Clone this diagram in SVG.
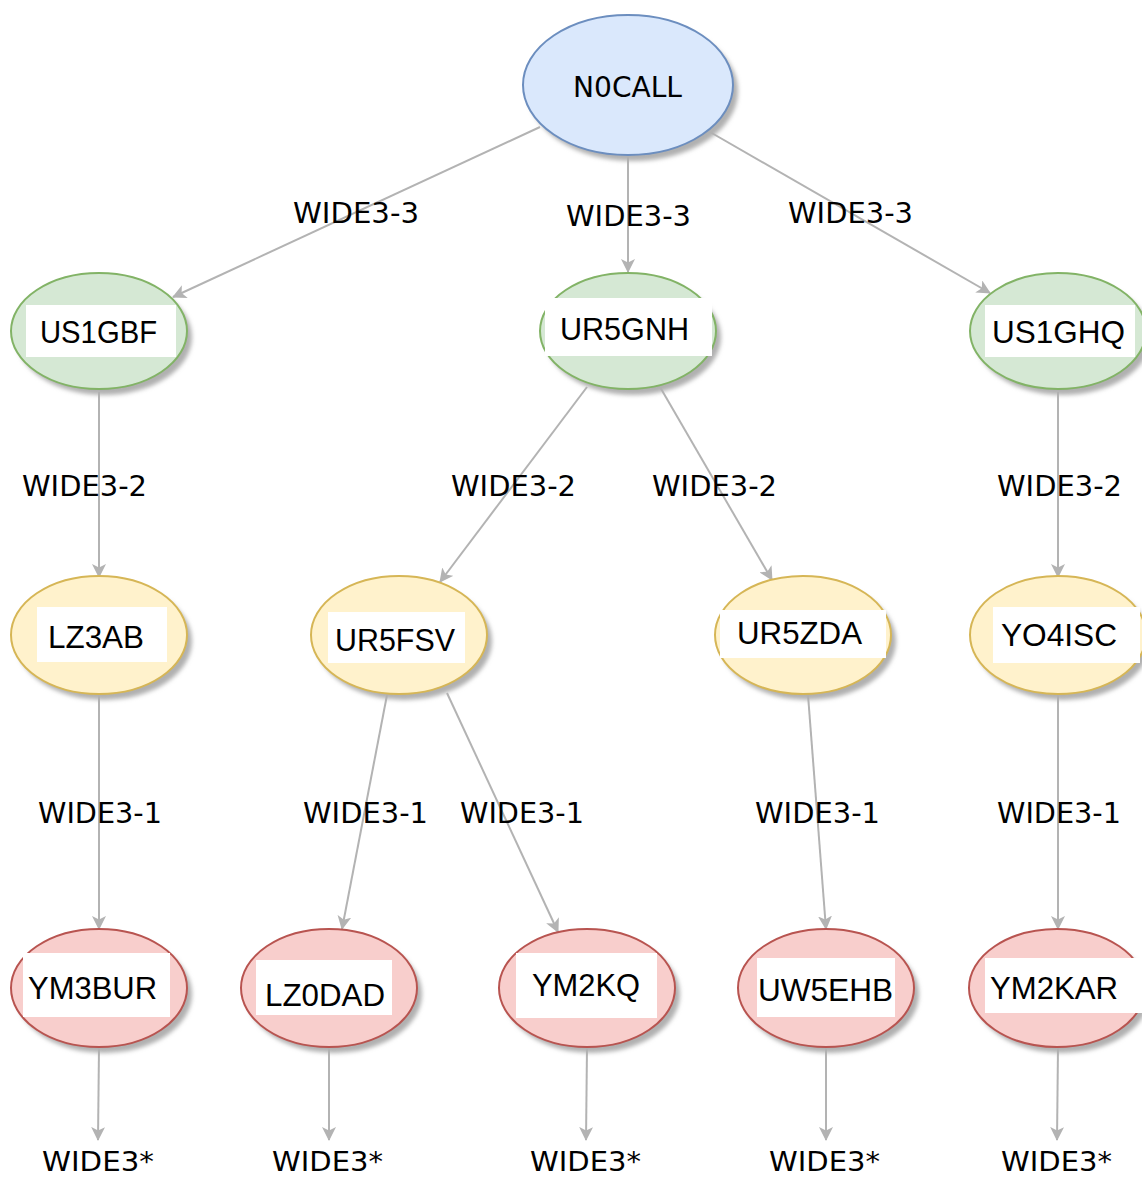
<svg xmlns="http://www.w3.org/2000/svg" width="1142" height="1177" viewBox="0 0 1142 1177">
<style>
.bg{fill:#ffffff}
.sh{fill:#b0b0b0;filter:url(#blur)}
.blue{fill:#dae8fc;stroke:#6c8ebf;stroke-width:2}
.green{fill:#d5e8d4;stroke:#82b366;stroke-width:2}
.yellow{fill:#fff2cc;stroke:#d6b656;stroke-width:2}
.red{fill:#f8cecc;stroke:#b85450;stroke-width:2}
.box{fill:#ffffff}
.nl{font-family:"Liberation Sans",Arial,sans-serif;font-size:32px;fill:#000}
.el{font-family:"DejaVu Sans",Verdana,sans-serif;font-size:28px;fill:#000}
.eb{font-family:"DejaVu Sans",Verdana,sans-serif;font-size:26px;fill:#000}
.ed{stroke:#b3b3b3;stroke-width:2;fill:none;marker-end:url(#arr)}
</style>
<defs>
<filter id="blur" x="-20%" y="-20%" width="140%" height="140%"><feGaussianBlur stdDeviation="2"/></filter>
<marker id="arr" viewBox="0 0 14 14" refX="13" refY="7" markerWidth="14" markerHeight="14" markerUnits="userSpaceOnUse" orient="auto">
<path d="M0,0 L14,7 L0,14 L3.5,7 Z" fill="#b3b3b3"/>
</marker>
</defs>
<rect class="bg" x="0" y="0" width="1142" height="1177"/>

<g id="connectors">
<line class="ed" x1="540" y1="127" x2="173" y2="297"/>
<line class="ed" x1="628" y1="157" x2="628" y2="272"/>
<line class="ed" x1="710" y1="132" x2="990" y2="293"/>
<line class="ed" x1="99" y1="392" x2="99" y2="577"/>
<line class="ed" x1="587" y1="387" x2="440" y2="582"/>
<line class="ed" x1="660" y1="387" x2="772" y2="580"/>
<line class="ed" x1="1058" y1="392" x2="1058" y2="577"/>
<line class="ed" x1="99" y1="695" x2="99" y2="929"/>
<line class="ed" x1="387" y1="695" x2="342" y2="929"/>
<line class="ed" x1="447" y1="693" x2="558" y2="932"/>
<line class="ed" x1="808" y1="695" x2="826" y2="929"/>
<line class="ed" x1="1058" y1="695" x2="1058" y2="929"/>
<line class="ed" x1="99" y1="1047" x2="98" y2="1140"/>
<line class="ed" x1="329" y1="1047" x2="329" y2="1140"/>
<line class="ed" x1="587" y1="1047" x2="586" y2="1140"/>
<line class="ed" x1="826" y1="1047" x2="826" y2="1140"/>
<line class="ed" x1="1058" y1="1047" x2="1057" y2="1140"/>
<text class="el" x="293" y="223" textLength="126" lengthAdjust="spacingAndGlyphs">WIDE3-3</text>
<text class="el" x="566" y="226" textLength="125" lengthAdjust="spacingAndGlyphs">WIDE3-3</text>
<text class="el" x="788" y="223" textLength="125" lengthAdjust="spacingAndGlyphs">WIDE3-3</text>
<text class="el" x="22" y="496" textLength="125" lengthAdjust="spacingAndGlyphs">WIDE3-2</text>
<text class="el" x="451" y="496" textLength="125" lengthAdjust="spacingAndGlyphs">WIDE3-2</text>
<text class="el" x="652" y="496" textLength="125" lengthAdjust="spacingAndGlyphs">WIDE3-2</text>
<text class="el" x="997" y="496" textLength="125" lengthAdjust="spacingAndGlyphs">WIDE3-2</text>
<text class="el" x="38" y="823" textLength="124" lengthAdjust="spacingAndGlyphs">WIDE3-1</text>
<text class="el" x="303" y="823" textLength="125" lengthAdjust="spacingAndGlyphs">WIDE3-1</text>
<text class="el" x="460" y="823" textLength="124" lengthAdjust="spacingAndGlyphs">WIDE3-1</text>
<text class="el" x="755" y="823" textLength="125" lengthAdjust="spacingAndGlyphs">WIDE3-1</text>
<text class="el" x="997" y="823" textLength="124" lengthAdjust="spacingAndGlyphs">WIDE3-1</text>
<text class="eb" x="42" y="1171" textLength="112" lengthAdjust="spacingAndGlyphs">WIDE3*</text>
<text class="eb" x="272" y="1171" textLength="111" lengthAdjust="spacingAndGlyphs">WIDE3*</text>
<text class="eb" x="530" y="1171" textLength="111" lengthAdjust="spacingAndGlyphs">WIDE3*</text>
<text class="eb" x="769" y="1171" textLength="111" lengthAdjust="spacingAndGlyphs">WIDE3*</text>
<text class="eb" x="1001" y="1171" textLength="111" lengthAdjust="spacingAndGlyphs">WIDE3*</text>
</g>

<g id="n-NOCALL">
<ellipse class="sh" cx="633" cy="91" rx="105" ry="70"/>
<ellipse class="blue" cx="628" cy="85" rx="105" ry="70"/>
<text x="573" y="97" font-family="DejaVu Sans,Verdana,sans-serif" font-size="29" textLength="109" lengthAdjust="spacingAndGlyphs">N0CALL</text>
</g>

<g id="n-US1GBF">
<ellipse class="sh" cx="104" cy="337" rx="88" ry="58"/>
<ellipse class="green" cx="99" cy="331" rx="88" ry="58"/>
<rect class="box" x="26" y="305" width="150" height="52"/>
<text class="nl" x="40" y="343" textLength="117" lengthAdjust="spacingAndGlyphs">US1GBF</text>
</g>
<g id="n-UR5GNH">
<ellipse class="sh" cx="633" cy="337" rx="88" ry="58"/>
<ellipse class="green" cx="628" cy="331" rx="88" ry="58"/>
<rect class="box" x="545" y="298" width="167" height="58"/>
<text class="nl" x="560" y="340" textLength="129" lengthAdjust="spacingAndGlyphs">UR5GNH</text>
</g>
<g id="n-US1GHQ">
<ellipse class="sh" cx="1063" cy="337" rx="88" ry="58"/>
<ellipse class="green" cx="1058" cy="331" rx="88" ry="58"/>
<rect class="box" x="985" y="305" width="150" height="52"/>
<text class="nl" x="992" y="343" textLength="133" lengthAdjust="spacingAndGlyphs">US1GHQ</text>
</g>

<g id="n-LZ3AB">
<ellipse class="sh" cx="104" cy="641" rx="88" ry="59"/>
<ellipse class="yellow" cx="99" cy="635" rx="88" ry="59"/>
<rect class="box" x="37" y="607" width="130" height="55"/>
<text class="nl" x="48" y="648" textLength="96" lengthAdjust="spacingAndGlyphs">LZ3AB</text>
</g>
<g id="n-UR5FSV">
<ellipse class="sh" cx="404" cy="641" rx="88" ry="59"/>
<ellipse class="yellow" cx="399" cy="635" rx="88" ry="59"/>
<rect class="box" x="328" y="612" width="137" height="51"/>
<text class="nl" x="335" y="651" textLength="120" lengthAdjust="spacingAndGlyphs">UR5FSV</text>
</g>
<g id="n-UR5ZDA">
<ellipse class="sh" cx="808" cy="641" rx="88" ry="59"/>
<ellipse class="yellow" cx="803" cy="635" rx="88" ry="59"/>
<rect class="box" x="720" y="610" width="166" height="48"/>
<text class="nl" x="737" y="644" textLength="125" lengthAdjust="spacingAndGlyphs">UR5ZDA</text>
</g>
<g id="n-YO4ISC">
<ellipse class="sh" cx="1063" cy="641" rx="88" ry="59"/>
<ellipse class="yellow" cx="1058" cy="635" rx="88" ry="59"/>
<rect class="box" x="993" y="607" width="147" height="56"/>
<text class="nl" x="1001" y="646" textLength="116" lengthAdjust="spacingAndGlyphs">YO4ISC</text>
</g>

<g id="n-YM3BUR">
<ellipse class="sh" cx="104" cy="994" rx="88" ry="59"/>
<ellipse class="red" cx="99" cy="988" rx="88" ry="59"/>
<rect class="box" x="23" y="953" width="147" height="64"/>
<text class="nl" x="28" y="999" textLength="129" lengthAdjust="spacingAndGlyphs">YM3BUR</text>
</g>
<g id="n-LZ0DAD">
<ellipse class="sh" cx="334" cy="994" rx="88" ry="59"/>
<ellipse class="red" cx="329" cy="988" rx="88" ry="59"/>
<rect class="box" x="256" y="960" width="136" height="55"/>
<text class="nl" x="265" y="1006" textLength="120" lengthAdjust="spacingAndGlyphs">LZ0DAD</text>
</g>
<g id="n-YM2KQ">
<ellipse class="sh" cx="592" cy="994" rx="88" ry="59"/>
<ellipse class="red" cx="587" cy="988" rx="88" ry="59"/>
<rect class="box" x="516" y="953" width="141" height="65"/>
<text class="nl" x="532" y="996" textLength="108" lengthAdjust="spacingAndGlyphs">YM2KQ</text>
</g>
<g id="n-UW5EHB">
<ellipse class="sh" cx="831" cy="994" rx="88" ry="59"/>
<ellipse class="red" cx="826" cy="988" rx="88" ry="59"/>
<rect class="box" x="757" y="958" width="138" height="59"/>
<text class="nl" x="758" y="1001" textLength="135" lengthAdjust="spacingAndGlyphs">UW5EHB</text>
</g>
<g id="n-YM2KAR">
<ellipse class="sh" cx="1062" cy="994" rx="88" ry="59"/>
<ellipse class="red" cx="1057" cy="988" rx="88" ry="59"/>
<rect class="box" x="985" y="958" width="157" height="55"/>
<text class="nl" x="990" y="999" textLength="128" lengthAdjust="spacingAndGlyphs">YM2KAR</text>
</g>
</svg>
